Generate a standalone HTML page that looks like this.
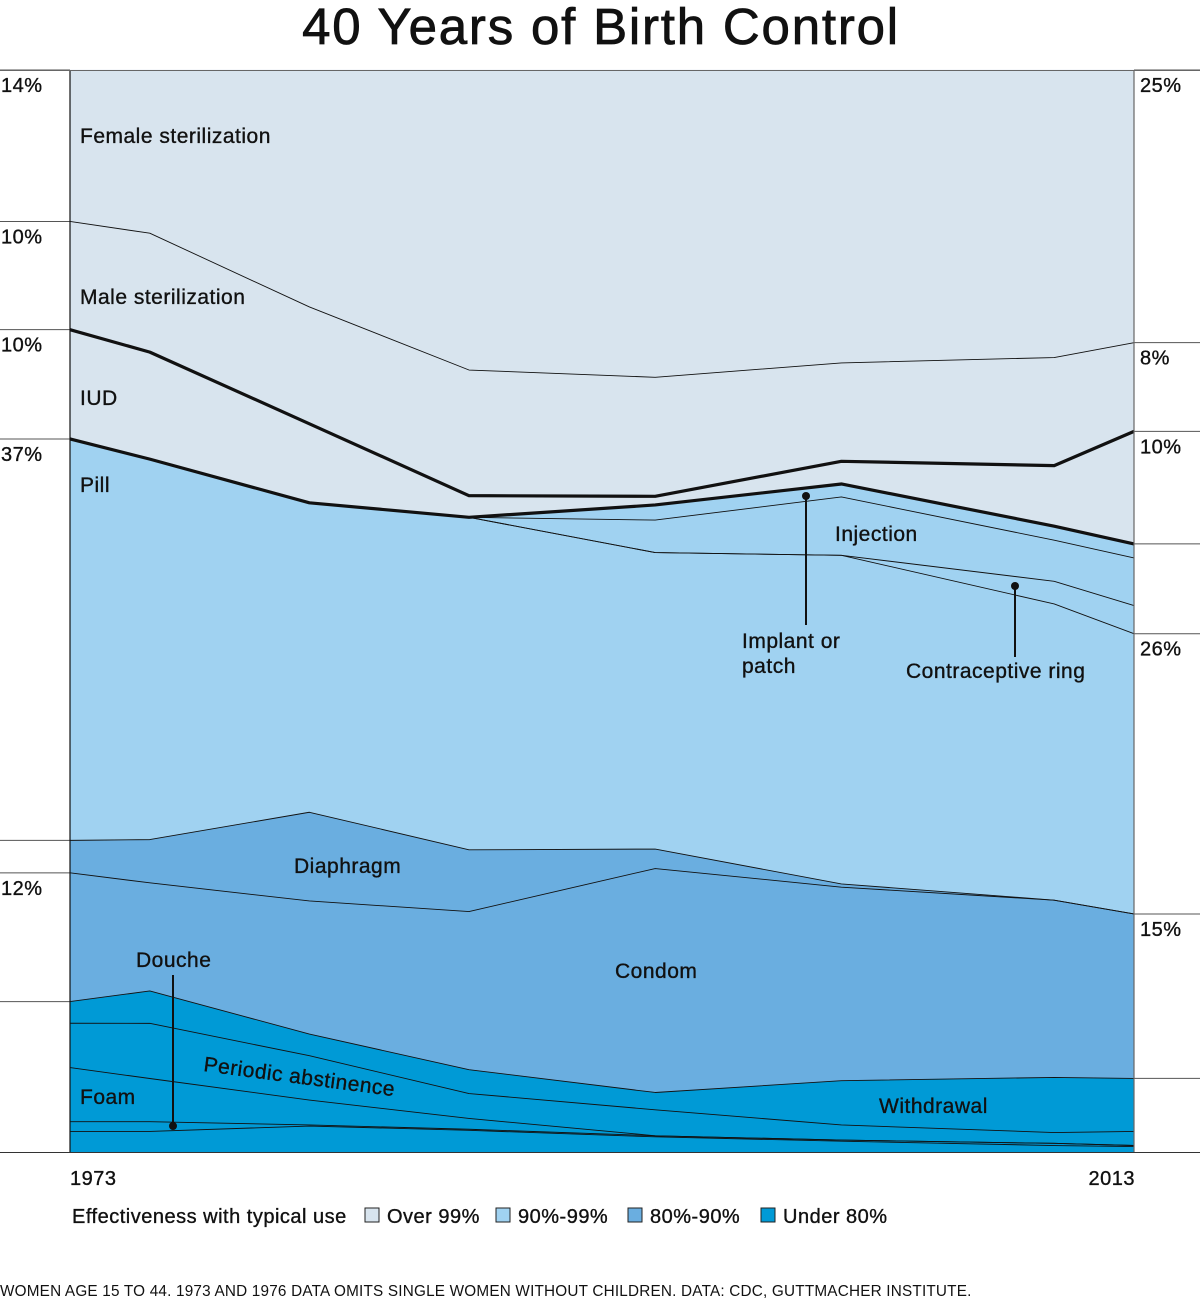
<!DOCTYPE html>
<html><head><meta charset="utf-8"><style>
body{margin:0;background:#fff;font-family:"Liberation Sans",sans-serif;}
svg{display:block}
.t{stroke:#111;stroke-width:0.35px;letter-spacing:0.5px}
</style></head><body>
<svg id="c" width="1200" height="1300" font-family="Liberation Sans, sans-serif">
<text x="601" y="44" text-anchor="middle" font-size="51" fill="#111" stroke="#111" stroke-width="0.8" letter-spacing="1.8">40 Years of Birth Control</text>
<g id="areas"></g>
<g id="lines"></g>
<g id="refs"></g>
<g id="labels" font-size="21" fill="#111" class="t">
<text x="80" y="143">Female sterilization</text>
<text x="80" y="304">Male sterilization</text>
<text x="80" y="405">IUD</text>
<text x="80" y="492">Pill</text>
<text x="835" y="541">Injection</text>
<text x="742" y="648">Implant or</text>
<text x="742" y="673">patch</text>
<text x="906" y="678">Contraceptive ring</text>
<text x="294" y="873">Diaphragm</text>
<text x="615" y="978">Condom</text>
<text x="136" y="967">Douche</text>
<text x="80" y="1104">Foam</text>
<text x="879" y="1113">Withdrawal</text>
<text x="203" y="1071" transform="rotate(7.5 203 1071)">Periodic abstinence</text>
</g>
<g id="pointers">
<line x1="173" y1="975" x2="173" y2="1126" stroke="#111" stroke-width="2"/><circle cx="173" cy="1126" r="4" fill="#111"/>
<line x1="806" y1="496" x2="806" y2="625" stroke="#111" stroke-width="2"/><circle cx="806" cy="496" r="4" fill="#111"/>
<line x1="1015" y1="586" x2="1015" y2="657" stroke="#111" stroke-width="2"/><circle cx="1015" cy="586" r="4" fill="#111"/>
</g>
<line x1="70" y1="70" x2="70" y2="1152" stroke="#111" stroke-width="1.2"/>
<line x1="1134" y1="70" x2="1134" y2="1152" stroke="#666" stroke-width="1.2"/>
<line x1="0" y1="70.5" x2="1200" y2="70.5" stroke="#666" stroke-width="1"/>
<line x1="0" y1="1152.5" x2="1200" y2="1152.5" stroke="#333" stroke-width="1"/>
<text x="70" y="1185" font-size="20" fill="#111" class="t">1973</text>
<text x="1135" y="1185" font-size="20" fill="#111" class="t" text-anchor="end">2013</text>
<g font-size="20" fill="#111">
<text x="72" y="1223" class="t">Effectiveness with typical use</text>
<rect x="365" y="1208" width="14" height="14" fill="#d8e4ee" stroke="#222"/>
<text x="387" y="1223" class="t">Over 99%</text>
<rect x="496" y="1208" width="14" height="14" fill="#a0d2f1" stroke="#222"/>
<text x="518" y="1223" class="t">90%-99%</text>
<rect x="628" y="1208" width="14" height="14" fill="#6aaee0" stroke="#222"/>
<text x="650" y="1223" class="t">80%-90%</text>
<rect x="761" y="1208" width="14" height="14" fill="#009ad6" stroke="#222"/>
<text x="783" y="1223" class="t">Under 80%</text>
</g>
<text x="0" y="1296" font-size="15.3" letter-spacing="0.2" fill="#111">WOMEN AGE 15 TO 44. 1973 AND 1976 DATA OMITS SINGLE WOMEN WITHOUT CHILDREN. DATA: CDC, GUTTMACHER INSTITUTE.</text>
</svg>
<script>
const years=[1973,1976,1982,1988,1995,2002,2010,2013];
const methods=["Other","Douche","Foam","Periodic abstinence","Withdrawal","Condom","Diaphragm","Pill","Contraceptive ring","Injection","Implant or patch","IUD","Male sterilization","Female sterilization"];
const other=[1.9,1.9,2.4,2.0,1.4,1.0,0.6,0.5];
const douche=[0.9,0.9,0.1,0.1,0.1,0.1,0.2,0.1];
const foam=[5.0,4.0,2.3,1.0,0,0,0,0];
const periodic=[4.1,5.1,4.1,2.3,2.4,1.4,1.0,1.3];
const withdrawal=[2.0,3.0,2.0,2.2,1.6,4.1,5.1,4.9];
const condom=[11.9,10.0,12.3,14.6,20.7,17.9,16.4,15.2];
const diaphragm=[3.0,4.0,8.2,5.7,1.8,0.3,0,0];
const pill=[37.1,35.2,28.6,30.7,27.4,30.4,27.4,25.9];
const ring=[0,0,0,0,0,0,2.1,2.6];
const injection=[0,0,0,0,3.0,5.4,3.8,4.4];
const implant=[0,0,0,0,1.4,1.2,1.3,1.3];
const iud=[10.1,9.9,7.3,2.0,0.8,2.1,5.6,10.4];
const maleSter=[10.0,11.0,10.8,11.6,11.0,9.1,10.0,8.2];
const femaleSter=[14.0,15.1,21.9,27.7,28.4,27.1,26.6,25.2];
const series=[other,douche,foam,periodic,withdrawal,condom,diaphragm,pill,ring,injection,implant,iud,maleSter,femaleSter];
const tiers=[3,3,3,3,3,2,2,1,1,1,1,0,0,0];
const tierColors=["#d8e4ee","#a0d2f1","#6aaee0","#009ad6"];
const leftLabels={13:"14%",12:"10%",11:"10%",7:"37%",5:"12%"};
const rightLabels={13:"25%",12:"8%",11:"10%",7:"26%",5:"15%"};
const leftLines=[13,12,11,7,6,5,4];
const rightLines=[13,12,11,10,7,5,4];
const thick=[10,11];

const X0=70,X1=1134,Y0=1152,Y1=70;
const xs=y=>X0+(y-years[0])/(years[years.length-1]-years[0])*(X1-X0);
const ys=p=>Y0-p/100*(Y0-Y1);
const NS="http://www.w3.org/2000/svg";
const totals=years.map((_,i)=>series.reduce((s,a)=>s+a[i],0));
const cum=[years.map(()=>0)];
series.forEach((s,k)=>cum.push(years.map((_,i)=>cum[k][i]+s[i]/totals[i]*100)));
const areas=document.getElementById('areas'),lines=document.getElementById('lines'),refs=document.getElementById('refs');
series.forEach((s,k)=>{
  const top=years.map((y,i)=>xs(y)+','+ys(cum[k+1][i]));
  const bot=years.map((y,i)=>xs(y)+','+ys(cum[k][i])).reverse();
  const p=document.createElementNS(NS,'polygon');
  p.setAttribute('points',top.concat(bot).join(' '));
  p.setAttribute('fill',tierColors[tiers[k]]);
  p.setAttribute('stroke',tierColors[tiers[k]]);
  p.setAttribute('stroke-width','0.5');
  
  
  areas.appendChild(p);
});
function addLine(k,w){
  const l=document.createElementNS(NS,'polyline');
  l.setAttribute('points',years.map((y,i)=>xs(y)+','+ys(cum[k+1][i])).join(' '));
  l.setAttribute('fill','none');l.setAttribute('stroke','#111');l.setAttribute('stroke-width',w);
  l.setAttribute('stroke-linejoin','round');
  
  
  lines.appendChild(l);
}
for(let k=0;k<series.length-1;k++){ if(!thick.includes(k)) addLine(k,0.9); }
thick.forEach(k=>addLine(k,3.2));
function ref(k,side){
  const i=side==='l'?0:years.length-1;
  const y=ys(cum[k+1][i]);
  const l=document.createElementNS(NS,'line');
  l.setAttribute('x1',side==='l'?0:X1);l.setAttribute('x2',side==='l'?X0:1200);
  l.setAttribute('y1',y);l.setAttribute('y2',y);
  l.setAttribute('stroke','#555');l.setAttribute('stroke-width','1');
  
  
  refs.appendChild(l);
  const lab=(side==='l'?leftLabels:rightLabels)[k];
  if(lab){
    const t=document.createElementNS(NS,'text');
    t.setAttribute('x',side==='l'?1:1140);t.setAttribute('y',y+22);
    t.setAttribute('font-size','20');t.setAttribute('fill','#111');
    t.setAttribute('class','t');
    t.textContent=lab;
    
    
    refs.appendChild(t);
  }
}
leftLines.forEach(k=>ref(k,'l'));
rightLines.forEach(k=>ref(k,'r'));
</script>
</body></html>
